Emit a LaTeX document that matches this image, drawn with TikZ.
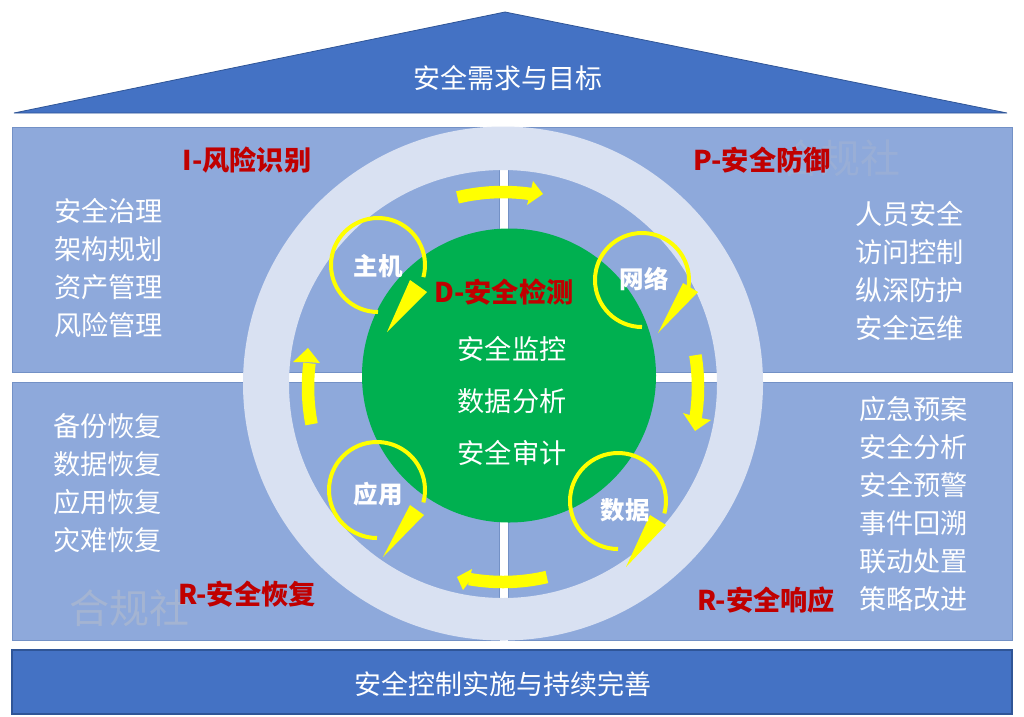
\documentclass[tikz,border=0pt]{standalone}
\usepackage{fontspec}
\setmainfont{Noto Sans CJK SC}
\definecolor{panelblue}{HTML}{8EA9DB}
\definecolor{paneledge}{HTML}{7391C6}
\definecolor{ringblue}{HTML}{D9E1F2}
\definecolor{roofblue}{HTML}{4472C4}
\definecolor{edgeblue}{HTML}{2F5597}
\definecolor{greenball}{HTML}{00B050}
\definecolor{redlabel}{HTML}{C00000}
\definecolor{yel}{HTML}{FFFF00}
\definecolor{markgrey}{HTML}{A4B4D2}
\tikzset{
  panelbox/.style={fill=panelblue,draw=paneledge,line width=0.8pt},
  listtext/.style={text=white,font=\fontsize{27.2}{38}\selectfont,align=left,inner sep=0pt},
  redtext/.style={text=redlabel,font=\bfseries\fontsize{27.2}{32}\selectfont,inner sep=0pt},
  hosttext/.style={text=white,font=\bfseries\fontsize{24.5}{28}\selectfont,inner sep=0pt},
  centertext/.style={text=white,font=\fontsize{27.2}{32}\selectfont,inner sep=0pt},
  bandtext/.style={text=white,font=\fontsize{27}{32}\selectfont,inner sep=0pt},
  marktext/.style={text=markgrey,font=\fontsize{40}{44}\selectfont,inner sep=0pt},
  ringloop/.style={draw=yel,line width=4pt},
  cyclearrow/.style={draw=yel,line width=12.5pt},
  yellowfill/.style={fill=yel,draw=none},
}
\newcommand{\cyc}[2]{% start, shaft end angle around ring centre
  \draw[cyclearrow] ({503+195*cos(#1)},{387+195*sin(#1)}) arc[start angle=#1,end angle=#2,radius=195];}
\begin{document}
\begin{tikzpicture}[x=1pt,y=-1pt]
\useasboundingbox (0,0) rectangle (1024,716);
\fill[white] (0,0) rectangle (1024,716);
% roof and base
\coordinate (apex) at (505,12);
\coordinate (roofL) at (14,113);
\coordinate (roofR) at (1007,113);
\fill[roofblue,draw=edgeblue,line width=0.8pt,line join=bevel] (apex) -- (roofR) -- (roofL) -- cycle;
\node[bandtext] (goal) at (508,78) {安全需求与目标};
\fill[roofblue,draw=edgeblue,line width=1.2pt] (12,650) rectangle (1012,714);
\node[bandtext] (base) at (503,684) {安全控制实施与持续完善};
% panels
\path[panelbox] (12,127) rectangle (499,372);
\path[panelbox] (508,127) rectangle (1012,372);
\path[panelbox] (12,382) rectangle (499,640);
\path[panelbox] (508,382) rectangle (1012,640);
% faint marks
\node[marktext,opacity=0.5] (w1) at (840,158) {合规社};
\node[marktext] (w2) at (129,608) {合规社};
% ring
\fill[ringblue,even odd rule] (503,383.5) ellipse [x radius=260,y radius=257] (503,384) circle (214);
% green ball
\node[circle,fill=greenball,minimum size=294pt,inner sep=0pt] (ball) at (509,375.5) {};
% loops
\draw[ringloop] (378,312) arc[start angle=90,end angle=375,radius=47];
\fill[yellowfill] (387,332) -- (410,280) -- (427,292) -- cycle;
\draw[ringloop] (642,327) arc[start angle=90,end angle=375,radius=47];
\fill[yellowfill] (658,333) -- (683,283) -- (698,292) -- cycle;
\draw[ringloop] (377,538) arc[start angle=90,end angle=375,radius=48];
\fill[yellowfill] (383,557) -- (410,505) -- (424,515) -- cycle;
\draw[ringloop] (618,549) arc[start angle=90,end angle=375,radius=48];
\fill[yellowfill] (626,567) -- (650,515) -- (666,525) -- cycle;
% cycle arrows
\cyc{-103.5}{-81}
\fill[yellowfill] (533,181) -- (543,194) -- (527,205) -- (530,194) -- cycle;
\cyc{-9.4}{9}
\fill[yellowfill] (683,413) -- (696,417) -- (711,420) -- (695,431) -- cycle;
\cyc{77}{100}
\fill[yellowfill] (472,569) -- (457,577) -- (463,590) -- (469,582) -- cycle;
\cyc{169}{187}
\fill[yellowfill] (293,362) -- (308,348) -- (320,363) -- (306,362) -- cycle;
% labels
\node[redtext] (i) at (247,160) {I-风险识别};
\node[redtext] (p) at (762,160) {P-安全防御};
\node[redtext] (d) at (504,292) {D-安全检测};
\node[redtext] (r1) at (247,594) {R-安全恢复};
\node[redtext] (r2) at (766,600) {R-安全响应};
\node[listtext,anchor=north west] (l1) at (54,198) {安全治理\\架构规划\\资产管理\\风险管理};
\node[listtext,anchor=north west] (l2) at (855,201) {人员安全\\访问控制\\纵深防护\\安全运维};
\node[listtext,anchor=north west] (l3) at (53,413) {备份恢复\\数据恢复\\应用恢复\\灾难恢复};
\node[listtext,anchor=north west] (l4) at (859,396) {应急预案\\安全分析\\安全预警\\事件回溯\\联动处置\\策略改进};
\node[centertext] (c1) at (512,349) {安全监控};
\node[centertext] (c2) at (512,401) {数据分析};
\node[centertext] (c3) at (512,453) {安全审计};
\node[hosttext] (h1) at (378,266) {主机};
\node[hosttext] (h2) at (644,279) {网络};
\node[hosttext] (h3) at (378,494) {应用};
\node[hosttext] (h4) at (625,510) {数据};
\end{tikzpicture}
\end{document}
